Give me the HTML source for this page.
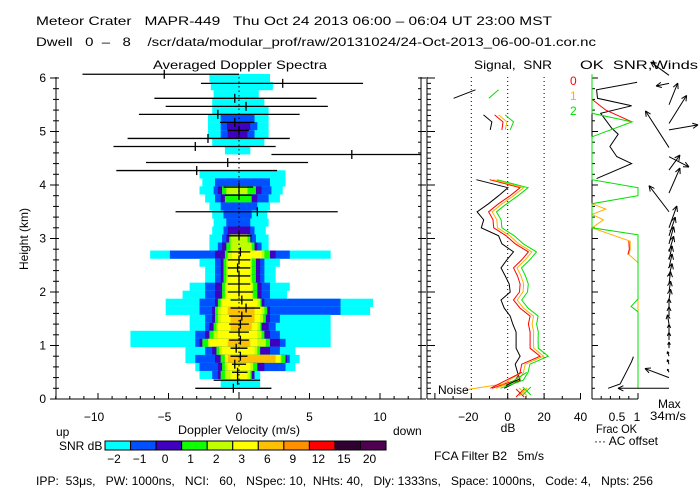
<!DOCTYPE html>
<html><head><meta charset="utf-8"><style>
html,body{margin:0;padding:0;background:#fff;}
svg{display:block;font-family:"Liberation Sans",sans-serif;}
text{font-size:12px;fill:#000;white-space:pre;}
</style></head><body>
<svg id="chart" width="700" height="500" viewBox="0 0 700 500" xmlns="http://www.w3.org/2000/svg" xml:space="preserve">
<rect x="0" y="0" width="700" height="500" fill="#fff"/>
<text x="36" y="25" font-size="13" textLength="516" lengthAdjust="spacingAndGlyphs">Meteor Crater   MAPR-449   Thu Oct 24 2013 06:00 – 06:04 UT 23:00 MST</text>
<text x="36" y="46" font-size="12" textLength="560" lengthAdjust="spacingAndGlyphs">Dwell   0  –   8    /scr/data/modular_prof/raw/20131024/24-Oct-2013_06-00-01.cor.nc</text>
<text x="153" y="69" font-size="13" textLength="174" lengthAdjust="spacingAndGlyphs">Averaged Doppler Spectra</text>
<text x="474" y="69" font-size="13" textLength="78" lengthAdjust="spacingAndGlyphs">Signal,  SNR</text>
<text x="580" y="69" font-size="13" textLength="118" lengthAdjust="spacingAndGlyphs">OK  SNR,Winds</text>
<g id="spec"></g>
<g id="bars"></g>
<g id="axes"></g>
<g id="sig"></g>
<g id="wind"></g>
<text x="-1" y="0" transform="translate(28,238) rotate(-90)" text-anchor="middle" font-size="11">Height (km)</text>
<text x="56" y="436">up</text>
<text x="178" y="434" textLength="122" lengthAdjust="spacingAndGlyphs">Doppler Velocity (m/s)</text>
<text x="393" y="435">down</text>
<text x="59" y="450">SNR dB</text>
<text x="508" y="432" text-anchor="middle">dB</text>
<text x="596" y="433" textLength="41" lengthAdjust="spacingAndGlyphs">Frac OK</text>
<text x="594" y="445" textLength="64" lengthAdjust="spacingAndGlyphs">··· AC offset</text>
<text x="658" y="408">Max</text>
<text x="650" y="420" textLength="36" lengthAdjust="spacingAndGlyphs">34m/s</text>
<text x="434" y="460" textLength="110" lengthAdjust="spacingAndGlyphs">FCA Filter B2   5m/s</text>
<text x="36" y="485" textLength="617" lengthAdjust="spacingAndGlyphs">IPP:  53μs,   PW: 1000ns,   NCI:   60,   NSpec: 10,  NHts: 40,   Dly: 1333ns,   Space: 1000ns,   Code: 4,   Npts: 256</text>
<text x="438" y="394" font-size="11">Noise</text>
<text x="570" y="85" style="fill:#ff0000">0</text>
<text x="570" y="100" style="fill:#ffb000">1</text>
<text x="570" y="115" style="fill:#00e000">2</text>
<g id="cbar"></g>
</svg>
<script>
// ---- data ----
const levelColors = ["#00ffff","#0050ff","#4000c0","#10ff00","#c0ff00","#ffff00","#ffc000","#ff9000","#ff0000","#300030","#500050"];
const colorbarLabels = ["-2","-1","0","1","2","3","6","9","12","15","20"];
const specHeights = [6.0,5.85,5.7,5.55,5.4,5.25,5.1,4.95,4.8,4.65,4.2,4.05,3.9,3.75,3.6,3.45,3.3,3.15,3.0,2.85,2.7,2.55,2.4,2.25,2.1,1.95,1.8,1.65,1.5,1.35,1.2,1.05,0.9,0.75,0.6,0.45,0.3];
const specLevels = [
 [[-2.1,2.2]],[[-2.0,2.4]],[[-1.8,1.4]],[[-1.9,1.8]],[[-1.9,2.1]],
 [[-2.2,2.1],[-1.3,1.1]],
 [[-2.2,2.1],[-1.3,1.3],[-0.85,0.8]],
 [[-2.2,2.1],[-1.3,1.1],[-0.8,0.6]],
 [[-1.9,1.8]],[[-1.0,0.8]],
 [[-2.8,3.3]],
 [[-2.6,3.3],[-1.7,2.2]],
 [[-2.8,3.1],[-1.8,2.3],[-1.5,1.6],[-1.2,1.2],[-0.9,0.6]],
 [[-2.4,2.9],[-1.7,2.1],[-1.3,1.3],[-1.0,0.9]],
 [[-2.1,2.2],[-1.3,1.3]],
 [[-1.9,2.0],[-1.1,0.9]],
 [[-1.8,2.1],[-0.9,0.8]],
 [[-1.9,1.9],[-1.1,1.1],[-0.8,0.8]],
 [[-2.1,2.1],[-1.2,1.2],[-0.9,0.9],[-0.7,0.8],[-0.6,0.6]],
 [[-2.1,2.1],[-1.5,1.6],[-1.2,1.3],[-0.9,1.1],[-0.6,0.9]],
 [[-6.3,6.5],[-4.9,3.6],[-1.7,2.6],[-1.0,2.2],[-0.8,1.8],[-0.5,1.6]],
 [[-2.8,2.9],[-1.7,1.8],[-1.3,1.5],[-1.1,1.2],[-0.9,0.9],[-0.8,0.8]],
 [[-2.4,2.6],[-1.7,1.8],[-1.3,1.5],[-1.1,1.2],[-0.9,0.9],[-0.8,0.8]],
 [[-2.4,2.6],[-1.7,1.8],[-1.3,1.5],[-1.1,1.2],[-0.9,0.9],[-0.8,0.8]],
 [[-3.5,3.6],[-2.4,2.2],[-1.7,1.6],[-1.2,1.3],[-1.0,1.0],[-0.9,0.9]],
 [[-4.0,3.4],[-2.4,2.2],[-1.7,1.6],[-1.2,1.3],[-1.0,1.0],[-0.9,0.9]],
 [[-5.2,9.5],[-2.8,7.2],[-1.7,1.8],[-1.5,1.6],[-1.3,1.5],[-1.2,1.3]],
 [[-5.2,9.3],[-2.8,7.2],[-1.9,2.2],[-1.7,2.0],[-1.5,1.8],[-1.3,1.6],[-0.8,1.1]],
 [[-3.5,6.5],[-2.4,2.9],[-1.9,2.2],[-1.7,1.9],[-1.5,1.7],[-1.3,1.5],[-0.6,1.1]],
 [[-3.5,6.5],[-2.4,2.6],[-2.1,2.1],[-1.8,1.6],[-1.6,1.5],[-1.5,1.3],[-0.6,0.9]],
 [[-7.7,6.5],[-3.1,2.9],[-2.4,2.2],[-2.1,1.8],[-1.8,1.6],[-1.5,1.3]],
 [[-7.7,6.5],[-3.1,3.3],[-2.8,2.9],[-2.6,2.2],[-2.2,1.9],[-2.1,1.3],[-0.8,0.8]],
 [[-3.8,4.0],[-2.4,2.9],[-1.9,2.2],[-1.6,1.5],[-1.4,1.3],[-1.2,1.1]],
 [[-3.8,4.3],[-3.1,3.6],[-1.7,3.4],[-1.3,3.3],[-1.0,3.0],[-1.0,2.9],[-0.8,2.6]],
 [[-3.1,4.0],[-2.8,3.3],[-1.5,1.8],[-1.2,1.3],[-1.0,1.0],[-0.8,0.8]],
 [[-2.8,1.5],[-1.9,1.1],[-1.5,1.1],[-1.3,0.9],[-1.0,0.8],[-0.6,0.6]],
 [[-1.3,1.5]]
];
const barHeights = [6.07,5.9,5.62,5.47,5.32,5.17,5.02,4.87,4.72,4.57,4.42,4.27,3.96,3.81,3.5,3.05,2.75,2.6,2.45,2.3,2.15,2.0,1.85,1.7,1.55,1.4,1.25,1.1,0.95,0.8,0.65,0.5,0.35,0.2];
const barCenter = [-5.3,3.1,-0.3,0.5,-1.5,-0.3,0.0,-2.2,-3.1,8.0,-0.8,-3.0,0.0,0.0,1.3,0.0,0.1,0.0,-0.1,0.0,0.0,0.0,0.2,0.5,0.2,0.1,0.0,0.1,-0.2,0.1,-0.3,-0.1,-0.1,-0.4];
const barLo = [-11.1,-2.7,-6.0,-5.2,-7.1,-1.35,-0.8,-7.9,-8.9,2.3,-6.6,-8.7,-1.1,-1.0,-4.5,-0.8,-0.8,-0.8,-0.8,-0.8,-0.8,-0.8,-0.6,-0.6,-0.7,-0.7,-0.7,-0.7,-0.6,-0.6,-0.5,-0.5,-1.8,-3.1];
const barHi = [0.0,8.8,5.5,6.3,4.3,1.1,0.7,3.6,2.6,13.0,4.9,2.7,1.0,0.9,7.0,0.9,0.8,0.8,0.8,0.8,0.8,1.0,1.0,1.5,0.9,0.7,0.7,0.7,0.6,0.6,0.5,0.6,1.5,2.3];
const velTicks = [-10,-5,0,5,10];
const heightTicks = [0,1,2,3,4,5,6];
const dbTicks = [-20,0,20,40];
const sigHeights = [4.1,3.95,3.8,3.65,3.5,3.35,3.2,3.05,2.9,2.75,2.6,2.45,2.3,2.15,2.0,1.85,1.7,1.55,1.4,1.25,1.1,0.95,0.8,0.65,0.5,0.35,0.2];
const signalDb = [-17.2,0.1,-5.0,-10.5,-16.8,-13.2,-14.5,-5.0,-3.2,3.2,-0.5,-3.7,-1.4,0.8,1.4,-3.7,-1.9,1.4,2.8,4.6,4.6,4.6,6.8,4.1,5.4,6.8,-1.9];
const snr0 = [-9.9,6.8,1.4,-5.0,-10.5,-8.1,-7.7,-0.8,4.1,11.4,7.7,3.2,5.4,6.8,6.5,3.2,6.8,12.3,11.4,12.3,12.3,12.3,17.8,7.7,6.8,4.1,-8.6];
const snr1 = [-8.0,8.8,3.3,-3.0,-8.5,-6.0,-5.6,1.2,6.0,13.3,9.6,5.1,7.3,8.8,8.4,5.2,8.7,14.2,13.4,14.3,14.2,14.3,19.8,9.6,8.7,6.0,-6.5];
const snr2 = [-6.0,11.2,5.7,-0.5,-6.2,-3.6,-3.2,3.6,8.5,15.8,12.1,7.6,9.8,11.3,10.9,7.7,11.2,16.7,15.9,16.8,16.7,16.8,22.3,12.2,11.2,8.5,-4.0];
const upperSegHeights = [5.31,5.18,5.03];
const upperSignal = [-13.3,-8.7,-9.6];
const upperSnr0 = [-7.2,-2.6,-3.2];
const upperSnr1 = [-5.0,-0.4,-1.4];
const upperSnr2 = [-1.4,3.2,1.4];
const topSegHeights = [5.62,5.78];
const topSignal = [-29.7,-17.7];
const topSnr2 = [-10.4,-5.0];
const noise1Db = [-23.5,-2.5,6.8];
const noise1H = [0.17,0.28,0.48];
const noise0Db = [-9.5,7.8];
const noise0H = [0.2,0.5];
const noise2Db = [-1.0,10.5];
const noise2H = [0.25,0.5];
const noiseSigDb = [-1.0,6.8];
const noiseSigH = [0.25,0.38];
const noiseMarkDb = [6.8,8.5,10.5];
const fracGreenF = [1,1,0.85,1,1,0,0,1,1,0,0,0.87,0,0];
const fracGreenH = [0.2,1.63,1.73,1.87,3.07,3.2,3.65,3.8,3.95,4.1,4.9,5.18,5.34,6.07];
const fracOrangeF = [1,1,0.8,0.83,0.83,0,0.25,0,0.3,0];
const fracOrangeH = [0.2,2.55,2.7,2.8,2.95,3.2,3.35,3.45,3.55,3.65];
const fracRedF = [0.78,0.81,0.8];
const fracRedH = [2.7,2.8,2.95];
const fracRedTopF = [0,0.3,0.87];
const fracRedTopH = [5.6,5.4,5.18];
const acF = [0.98,0.10,0.12,0.86,0.19,0.43,0.57,0.39,0.54,0.86,0.10];
const acH = [5.92,5.78,5.62,5.48,5.34,5.06,4.95,4.72,4.53,4.40,4.12];
const acLowF = [0.35,0.61,0.75,0.86,0.9];
const acLowH = [0.2,0.28,0.51,0.70,0.79];
const windH = [0.2,0.4,0.5,0.65,0.8,0.95,1.1,1.25,1.4,1.55,1.7,1.85,2.0,2.15,2.3,2.45,2.6,2.75,2.9,3.05,3.2,3.5,3.85,4.28,4.53,4.7,5.03,5.15,5.5,5.9,6.05];
const windU = [-32.7,-15.4,-1,-1,-1,0,0,0,-1,0,0,1,1,1,2,2,2,3,3,4,5,-12.8,7,7,12.8,-15.1,18.6,11.3,5.6,-8.3,-11.7];
const windV = [0,5.8,2,3,3,4,5,5,6,6,6,7,7,8,8,9,9,10,11,12,14,16.7,16,9.6,-6.6,23.5,3.2,18,13.9,-1.7,8.5];

// ---- scales ----
const velX = v => 239 + 14.1*v;
const hY = h => 399 - 53.5*h;
const dbX = d => 507.7 + 1.82*d;
const fracX = f => 592 + 46*f;
const NS = "http://www.w3.org/2000/svg";
function mk(parent, tag, attrs){const e=document.createElementNS(NS,tag);for(const k in attrs)e.setAttribute(k,attrs[k]);parent.appendChild(e);return e;}
function ln(p,x1,y1,x2,y2,st,w,dash){return mk(p,"line",{x1,y1,x2,y2,stroke:st||"#000","stroke-width":w||1,"stroke-dasharray":dash||"none"});}

const spec=document.getElementById("spec");
specHeights.forEach((h,i)=>{
  specLevels[i].forEach((ext,l)=>{
    const r=mk(spec,"rect",{x:velX(ext[0]),y:hY(h)-4,width:velX(ext[1])-velX(ext[0]),height:8.2,fill:levelColors[l]});
    
    
  });
});
const ax=document.getElementById("axes");
ln(ax,56,77,56,399); ln(ax,56,399,421,399); ln(ax,421,77,421,399);
ln(ax,velX(0),77,velX(0),399,"#000",1,"1.5,3");
for(let k=0;k<=30;k++){const h=k*0.2;const y=hY(h);const maj=Math.abs(h-Math.round(h))<0.01;ln(ax,maj?50:53,y,59,y);ln(ax,418,y,maj?426:421,y);}
heightTicks.forEach(t=>{const tx=mk(ax,"text",{x:46,y:hY(t)+4,"text-anchor":"end"});tx.textContent=t;
 
 });
for(let v=-13;v<=12;v++){const x=velX(v);const maj=v%5===0;ln(ax,x,399,x,maj?393:396);}
velTicks.forEach(t=>{const tx=mk(ax,"text",{x:velX(t)-(t<0?4:0),y:421,"text-anchor":"middle"});tx.textContent=t<0?"−"+(-t):t;
 
 });
const bars=document.getElementById("bars");
barHeights.forEach((h,i)=>{const y=hY(h);const g=mk(bars,"g",{});
 
 
 ln(g,velX(barLo[i]),y,Math.min(velX(barHi[i]),421),y,"#000",1.3);ln(g,velX(barCenter[i]),y-4.5,velX(barCenter[i]),y+4.5,"#000",1.3);});
const cb=document.getElementById("cbar");
levelColors.forEach((c,i)=>{const x=105+25.55*i;const r=mk(cb,"rect",{x,y:441,width:25.55,height:9,fill:c,stroke:"#000","stroke-width":1});
 
 
 const t=mk(cb,"text",{x:x+9,y:463,"text-anchor":"middle"});t.textContent=colorbarLabels[i].replace("-","−");
 
 });
const sig=document.getElementById("sig");
ln(sig,427,77,427,399); ln(sig,427,399,581,399);
for(let k=0;k<=60;k++){const h=k*0.1;const y=hY(h);const maj=k%10===0;ln(sig,427,y,maj?435:431,y);}
[-20,0,20].forEach(d=>ln(sig,dbX(d),77,dbX(d),399,"#000",1,"1,3"));
for(let d=-40;d<=40;d+=10){ln(sig,dbX(d),399,dbX(d),d%20===0?393:396);}
dbTicks.forEach(t=>{const tx=mk(sig,"text",{x:dbX(t)-(t<0?3:0),y:421,"text-anchor":"middle"});tx.textContent=t<0?"−"+(-t):t;
 
 });
function poly(p,xs,hs,xf,col,name){const pts=xs.map((v,i)=>xf(v).toFixed(1)+","+hY(hs[i]).toFixed(1)).join(" ");const e=mk(p,"polyline",{points:pts,fill:"none",stroke:col,"stroke-width":1});return e;}
poly(sig,signalDb,sigHeights,dbX,"#000","signal-line");
poly(sig,snr0,sigHeights,dbX,"#ff0000","snr-0-line");
poly(sig,snr1,sigHeights,dbX,"#ffb000","snr-1-line");
poly(sig,snr2,sigHeights,dbX,"#00e000","snr-2-line");
poly(sig,upperSignal,upperSegHeights,dbX,"#000","signal-upper");
poly(sig,upperSnr0,upperSegHeights,dbX,"#ff0000","snr-0-upper");
poly(sig,upperSnr1,upperSegHeights,dbX,"#ffb000","snr-1-upper");
poly(sig,upperSnr2,upperSegHeights,dbX,"#00e000","snr-2-upper");
poly(sig,topSignal,topSegHeights,dbX,"#000","signal-top");
poly(sig,topSnr2,topSegHeights,dbX,"#00e000","snr-2-top");
poly(sig,noise1Db,noise1H,dbX,"#ffb000","noise-1");
poly(sig,noise0Db,noise0H,dbX,"#ff0000","noise-0");
poly(sig,noise2Db,noise2H,dbX,"#00e000","noise-2");
poly(sig,noiseSigDb,noiseSigH,dbX,"#000","noise-signal");
["#ff0000","#ffb000","#00e000"].forEach((c,i)=>{const x=dbX(noiseMarkDb[i]),y=393-i;const g=mk(sig,"g",{});
 
 
 ln(g,x-4,y-4,x+4,y+4,c);ln(g,x-4,y+4,x+4,y-4,c);});
const wd=document.getElementById("wind");
ln(wd,592,77,592,399); ln(wd,592,399,638,399);
for(let k=0;k<=30;k++){const y=hY(k*0.2);const maj=k%5===0;ln(wd,592,y,maj?598:595,y);}
for(let k=0;k<=5;k++){const x=fracX(k*0.2);ln(wd,x,399,x,k===5||k===0?393:396);}
[["0.5",617],["1",637]].forEach(a=>{const t=mk(wd,"text",{x:a[1],y:421,"text-anchor":"middle"});t.textContent=a[0];
 
 });
poly(wd,acF,acH,fracX,"#000","ac-offset-line");
poly(wd,acLowF,acLowH,fracX,"#000","ac-offset-low");
poly(wd,fracOrangeF,fracOrangeH,fracX,"#ffb000","frac-ok-1");
poly(wd,fracRedF,fracRedH,fracX,"#ff0000","frac-ok-0");
poly(wd,fracRedTopF,fracRedTopH,fracX,"#ff0000","frac-ok-0-top");
poly(wd,fracGreenF,fracGreenH,fracX,"#00e000","frac-ok-2");
windH.forEach((h,i)=>{const x0=669,y0=hY(h);const x1=x0+windU[i]*1.56,y1=y0-windV[i]*1.56;
 const g=mk(wd,"g",{});
 
 
 ln(g,x0,y0,x1,y1);
 const a=Math.atan2(y1-y0,x1-x0);const L=Math.min(6,Math.hypot(x1-x0,y1-y0)*0.5);
 [0.45,-0.45].forEach(d=>ln(g,x1,y1,x1-L*Math.cos(a+d),y1-L*Math.sin(a+d)));
});
</script>
</body></html>
